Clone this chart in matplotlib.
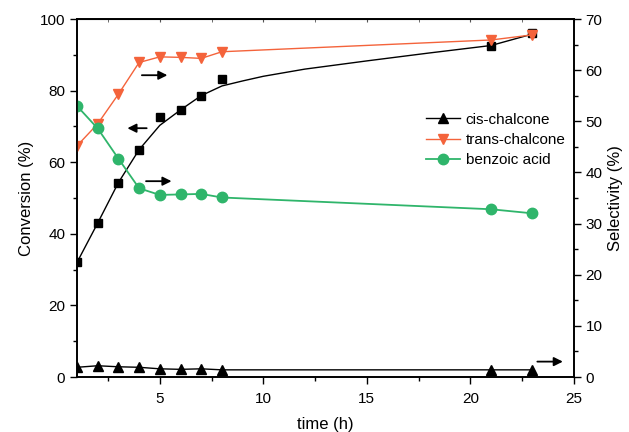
import matplotlib
matplotlib.use("Agg")
import matplotlib.pyplot as plt
from matplotlib.ticker import MultipleLocator

plt.rcParams['font.family'] = ['Liberation Sans', 'DejaVu Sans']

# time points (h)
time_h = [1, 2, 3, 4, 5, 6, 7, 8, 21, 23]

# conversion (%), left axis
conversion = [32, 43, 54.3, 63.5, 72.6, 74.7, 78.6, 83.3, 92.5, 96]
# fitted conversion curve
fit_t = [1, 2, 3, 4, 5, 6, 7, 8, 9, 10, 12, 15, 18, 21, 23]
fit_conv = [32, 43, 54.3, 63.5, 70.3, 74.6, 78.6, 81.3, 82.7, 84, 86, 88.3, 90.5, 92.6, 95.8]

# selectivity (%), right axis
cis_chalcone = [1.9, 2.2, 2.0, 1.9, 1.6, 1.5, 1.6, 1.4, 1.4, 1.4]
trans_chalcone = [45.2, 49.5, 55.3, 61.5, 62.6, 62.5, 62.3, 63.6, 65.9, 66.9]
benzoic_acid = [53.0, 48.6, 42.7, 36.9, 35.6, 35.7, 35.8, 35.1, 32.8, 32.0]

red = '#f4633b'
green = '#2fb56b'

fig = plt.figure(figsize=(6.29, 4.32), dpi=100)
ax = fig.add_axes([0.1224, 0.1273, 0.79, 0.8287])
ax2 = ax.twinx()

# conversion on left axis
ax.plot(fit_t, fit_conv, color='black', lw=1.0)
ax.plot(time_h, conversion, ls='none', marker='s', ms=5.5, color='black')

# selectivities on right axis
ax2.plot(time_h, cis_chalcone, color='black', lw=1.0, marker='^', ms=7, label='cis-chalcone')
ax2.plot(time_h, trans_chalcone, color=red, lw=1.0, marker='v', ms=7, label='trans-chalcone')
ax2.plot(time_h, benzoic_acid, color=green, lw=1.3, marker='o', ms=7.5, label='benzoic acid')

ax.set_xlim(1, 25)
ax.set_ylim(0, 100)
ax2.set_ylim(0, 70)

ax.xaxis.set_major_locator(MultipleLocator(5))
ax.xaxis.set_minor_locator(MultipleLocator(2.5))
ax.yaxis.set_major_locator(MultipleLocator(20))
ax.yaxis.set_minor_locator(MultipleLocator(10))
ax2.yaxis.set_major_locator(MultipleLocator(10))
ax2.yaxis.set_minor_locator(MultipleLocator(5))

ax.tick_params(axis='both', which='major', direction='out', length=5, width=1, labelsize=11)
ax.tick_params(axis='x', which='major', pad=6)
ax.tick_params(axis='both', which='minor', direction='out', length=3, width=1)
ax2.tick_params(axis='y', which='major', direction='out', length=5, width=1, labelsize=11)
ax2.tick_params(axis='y', which='minor', direction='out', length=3, width=1)

top = ax.secondary_xaxis('top')
top.xaxis.set_major_locator(MultipleLocator(5))
top.xaxis.set_minor_locator(MultipleLocator(2.5))
top.tick_params(which='both', direction='in', length=2, labeltop=False, color='#555555')

for a in (ax, ax2):
    for s in a.spines.values():
        s.set_linewidth(1.2)

ax.set_xlabel('time (h)', fontsize=12, labelpad=8)
ax.set_ylabel('Conversion (%)', fontsize=12)
ax2.set_ylabel('Selectivity (%)', fontsize=12, labelpad=4)

# arrows pointing to the axis each curve belongs to
arrow = dict(arrowstyle='-|>', color='black', lw=1.3, mutation_scale=13)
ax.annotate('', xy=(5.5, 84.3), xytext=(4.0, 84.3), arrowprops=arrow)
ax.annotate('', xy=(3.3, 69.5), xytext=(4.5, 69.5), arrowprops=arrow)
ax.annotate('', xy=(5.7, 54.7), xytext=(4.2, 54.7), arrowprops=arrow)
ax.annotate('', xy=(24.6, 4.3), xytext=(23.1, 4.3), arrowprops=arrow)

ax2.legend(loc='upper left', bbox_to_anchor=(0.69, 0.755), frameon=False,
           fontsize=11, handlelength=2.2, handletextpad=0.4, labelspacing=0.4,
           borderaxespad=0)

fig.savefig('out.png', dpi=100)
